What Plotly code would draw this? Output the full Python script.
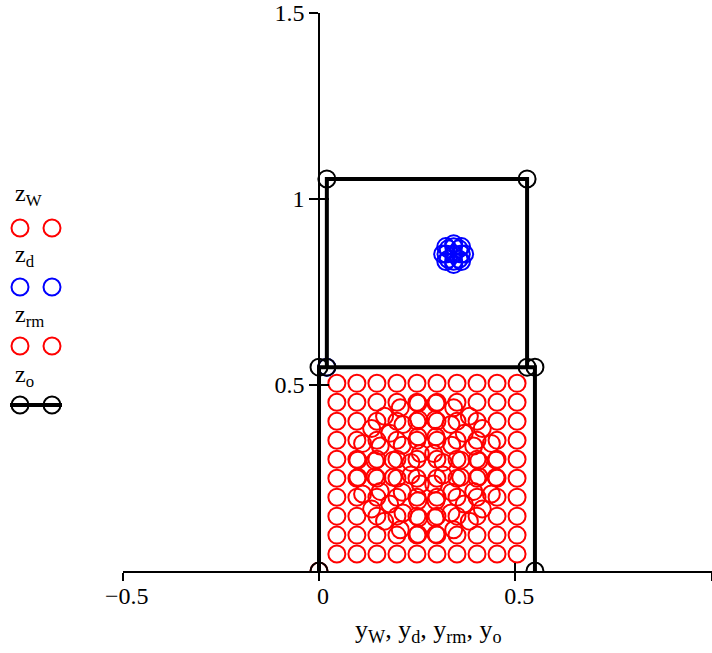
import plotly.graph_objects as go

# ---------------- data ----------------
# z_W : regular grid of points (same positions on both axes) + origin point
w_grid_pos = [0.0455, 0.0965, 0.1475, 0.1985, 0.2495, 0.3005, 0.3515, 0.4025, 0.4535, 0.5045]
w_extra_y = [0.0]
w_extra_z = [0.0]

# z_d : small blue cluster + corner point
y_d = [0.020, 0.343, 0.371, 0.363, 0.343, 0.323, 0.315, 0.323, 0.343, 0.363,
       0.3625, 0.357, 0.343, 0.329, 0.3235, 0.329, 0.343, 0.357]
z_d = [0.548, 0.852, 0.852, 0.872, 0.880, 0.872, 0.852, 0.832, 0.824, 0.832,
       0.852, 0.866, 0.8715, 0.866, 0.852, 0.838, 0.8325, 0.838]

# z_rm : red points arranged in rings in the middle of the section
y_rm = [0.451, 0.439, 0.416, 0.383, 0.343, 0.298, 0.099, 0.111, 0.134, 0.167, 0.207, 0.252,
        0.099, 0.111, 0.134, 0.167, 0.207, 0.252, 0.451, 0.439, 0.416, 0.383, 0.343, 0.298,
        0.407, 0.394, 0.370, 0.336, 0.296, 0.143, 0.156, 0.180, 0.214, 0.254,
        0.143, 0.156, 0.180, 0.214, 0.254, 0.407, 0.394, 0.370, 0.336, 0.296,
        0.361, 0.338, 0.298, 0.189, 0.212, 0.252, 0.189, 0.212, 0.252, 0.361, 0.338, 0.298,
        0.316, 0.292, 0.234, 0.258, 0.234, 0.258, 0.316, 0.292]
z_rm = [0.298, 0.343, 0.383, 0.416, 0.439, 0.451, 0.298, 0.343, 0.383, 0.416, 0.439, 0.451,
        0.252, 0.207, 0.167, 0.134, 0.111, 0.099, 0.252, 0.207, 0.167, 0.134, 0.111, 0.099,
        0.296, 0.336, 0.370, 0.394, 0.407, 0.296, 0.336, 0.370, 0.394, 0.407,
        0.254, 0.214, 0.180, 0.156, 0.143, 0.254, 0.214, 0.180, 0.156, 0.143,
        0.298, 0.338, 0.361, 0.298, 0.338, 0.361, 0.252, 0.212, 0.189, 0.252, 0.212, 0.189,
        0.292, 0.316, 0.292, 0.316, 0.258, 0.234, 0.258, 0.234]

# z_o : outline
y_o = [0.0, 0.0, 0.55, 0.55, None, 0.02, 0.02, 0.53, 0.53]
z_o = [0.0, 0.548, 0.548, 0.0, None, 0.548, 1.054, 1.054, 0.548]

x_tickvals = [-0.5, 0, 0.5, 1]
x_ticktext = ["\u22120.5", "0", "0.5", "1"]
y_tickvals = [0.5, 1, 1.5]
y_ticktext = ["0.5", "1", "1.5"]

legend_names = ["z<sub>W</sub>", "z<sub>d</sub>", "z<sub>rm</sub>", "z<sub>o</sub>"]

# build the grid table
y_w = [c for r in w_grid_pos for c in w_grid_pos] + w_extra_y
z_w = [r for r in w_grid_pos for c in w_grid_pos] + w_extra_z

# ---------------- figure ----------------
W, H = 712, 653
MT, MB = 13, 82
FONT = "Liberation Serif, Times New Roman, serif"
FS = 24
MS = 17
MLW = 2

RED = "#ff0000"
BLUE = "#0000ff"

def open_marker(color):
    return dict(symbol="circle-open", size=MS, color=color, line=dict(width=MLW, color=color))

fig = go.Figure()
fig.add_trace(go.Scatter(x=y_w, y=z_w, mode="markers", marker=open_marker(RED),
                         showlegend=False, hoverinfo="skip"))
fig.add_trace(go.Scatter(x=y_d, y=z_d, mode="markers", marker=open_marker(BLUE),
                         showlegend=False, hoverinfo="skip"))
fig.add_trace(go.Scatter(x=y_rm, y=z_rm, mode="markers", marker=open_marker(RED),
                         showlegend=False, hoverinfo="skip"))
fig.add_trace(go.Scatter(x=y_o, y=z_o, mode="lines+markers", marker=open_marker("black"),
                         line=dict(color="black", width=4), connectgaps=False,
                         showlegend=False, hoverinfo="skip"))

# overlay axes for inside half of crossing ticks
fig.add_trace(go.Scatter(x=[None], y=[None], xaxis="x2", yaxis="y2", mode="markers",
                         showlegend=False, hoverinfo="skip"))

# legend keys (pixel-based axis in left margin)
leg_x = [20, 52]
leg_rows = [228, 287, 346, 405]
leg_colors = [RED, BLUE, RED, "black"]
for i, (yy, col) in enumerate(zip(leg_rows, leg_colors)):
    if i == 3:
        fig.add_trace(go.Scatter(x=[10, 62], y=[yy, yy], mode="lines", line=dict(color="black", width=4),
                                 xaxis="x3", yaxis="y3", showlegend=False, hoverinfo="skip"))
    fig.add_trace(go.Scatter(x=leg_x, y=[yy, yy], mode="markers", marker=open_marker(col),
                             xaxis="x3", yaxis="y3", showlegend=False, hoverinfo="skip",
                             cliponaxis=False))

leg_text_y = [195, 256, 316, 376]
annotations = []
for name, ty in zip(legend_names, leg_text_y):
    annotations.append(dict(x=13, y=ty, xref="x3", yref="y3", text=name, showarrow=False,
                            xanchor="left", yanchor="middle",
                            font=dict(family=FONT, size=FS, color="black")))

annotations.append(dict(x=429 / W, y=-(631 - (H - MB)) / (H - MT - MB), xref="paper", yref="paper",
                        text="y<sub>W</sub>, y<sub>d</sub>, y<sub>rm</sub>, y<sub>o</sub>",
                        showarrow=False, xanchor="center", yanchor="middle",
                        font=dict(family=FONT, size=26, color="black")))

x_dom = [122.7 / W, 711.6 / W]
y0_pos = 319.3 / W
XR = [-0.5, 1.0]
YR = [0.0, 1.5]

axis_font = dict(family=FONT, size=FS, color="black")

fig.update_layout(
    template="none",
    width=W, height=H, autosize=False,
    margin=dict(l=0, r=0, t=MT, b=MB, pad=0, autoexpand=False),
    paper_bgcolor="white", plot_bgcolor="white",
    font=dict(family=FONT, color="black"),
    showlegend=False,
    annotations=annotations,
    xaxis=dict(domain=x_dom, range=XR, anchor="y", showgrid=False, zeroline=False,
               automargin=False,
               showline=True, linecolor="black", linewidth=2,
               ticks="outside", ticklen=8, tickwidth=2, tickcolor="black",
               tickmode="array", tickvals=x_tickvals, ticktext=x_ticktext,
               tickfont=axis_font, ticklabelshift=4, ticklabelstandoff=-6),
    yaxis=dict(domain=[0, 1], range=YR, anchor="free", position=y0_pos, showgrid=False,
               automargin=False,
               zeroline=False, showline=True, linecolor="black", linewidth=2,
               ticks="outside", ticklen=9, tickwidth=2, tickcolor="black",
               tickmode="array", tickvals=y_tickvals, ticktext=y_ticktext,
               tickfont=axis_font),
    xaxis2=dict(domain=x_dom, range=XR, overlaying="x", anchor="y2", showgrid=False,
                automargin=False,
                zeroline=False, showline=False, ticks="inside", ticklen=8, tickwidth=2,
                tickcolor="black", tickmode="array", tickvals=x_tickvals,
                showticklabels=False),
    yaxis2=dict(domain=[0, 1], range=YR, overlaying="y", anchor="free", position=y0_pos,
                automargin=False,
                showgrid=False, zeroline=False, showline=False, ticks="inside", ticklen=9,
                tickwidth=2, tickcolor="black", tickmode="array", tickvals=y_tickvals,
                showticklabels=False),
    xaxis3=dict(domain=[0, 0.15], range=[0, 0.15 * W], anchor="y3", visible=False,
                automargin=False),
    yaxis3=dict(domain=[0, 1], range=[H - MB, MT], anchor="x3", visible=False,
                automargin=False),
)

fig.write_html("out.html", config={"displayModeBar": False, "staticPlot": True},
               post_script="document.body.style.margin='0';document.body.style.overflow='hidden';")
